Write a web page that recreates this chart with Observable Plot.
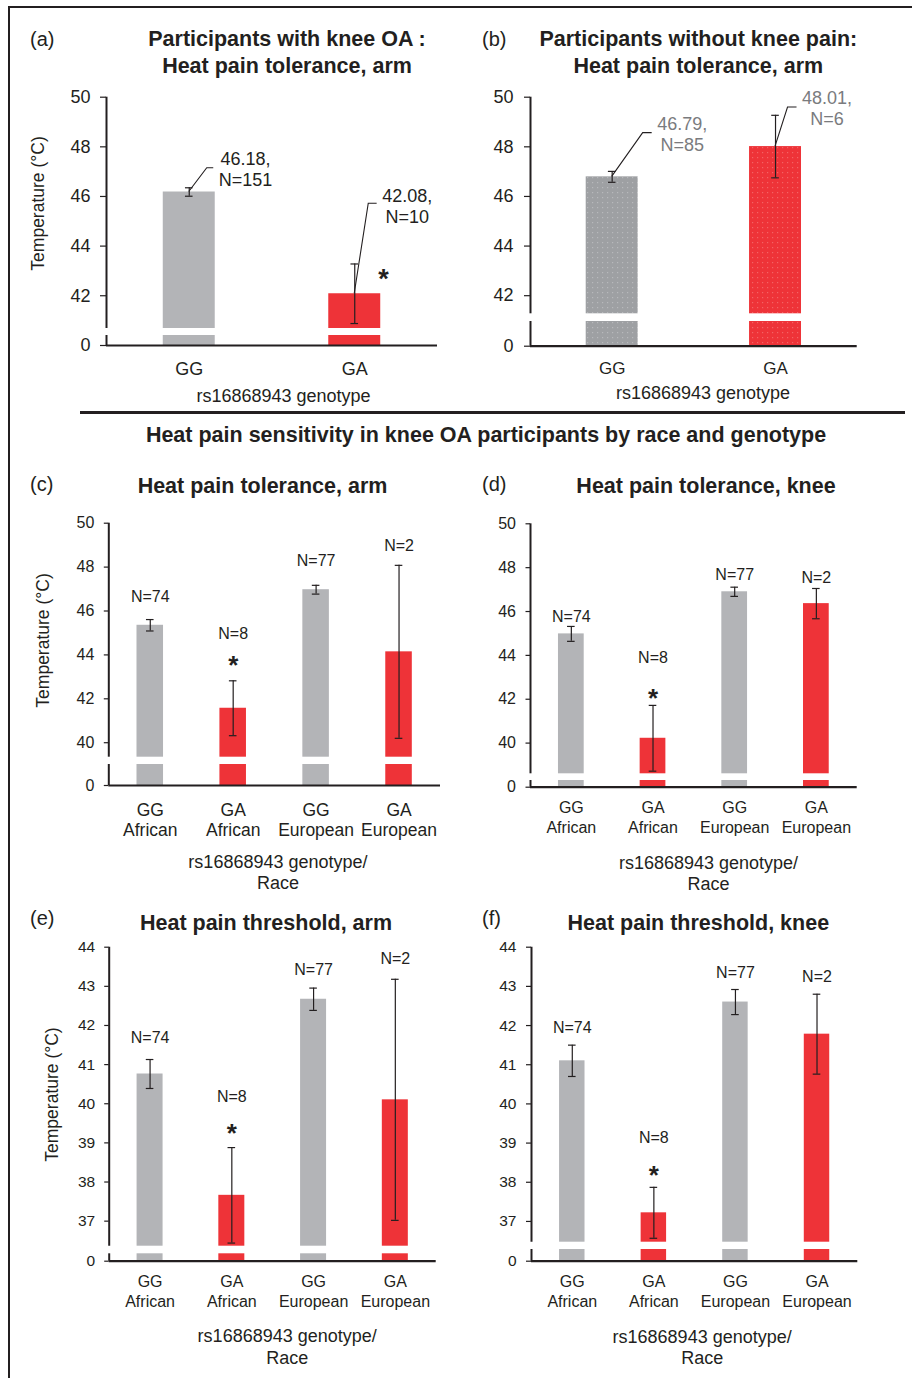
<!DOCTYPE html>
<html>
<head>
<meta charset="utf-8">
<script src="https://cdn.jsdelivr.net/npm/d3@7"></script>
<script src="https://cdn.jsdelivr.net/npm/@observablehq/plot@0.6"></script>
<style>
  html, body { margin: 0; padding: 0; background: #fff; }
  #fig { position: relative; width: 912px; height: 1378px; overflow: hidden; background: #fff;
         font-family: "Liberation Sans", Arial, Helvetica, sans-serif; color: #231f20; }
  .abs { position: absolute; white-space: pre; }
  .line { position: absolute; background: #231f20; }
</style>
</head>
<body>
<svg width="0" height="0" style="position:absolute">
  <defs>
    <pattern id="dotsGray" width="5" height="5" patternUnits="userSpaceOnUse">
      <rect width="5" height="5" fill="#9ea0a3"></rect>
      <rect x="2" y="2" width="1.2" height="1.2" fill="#b8b9bc"></rect>
    </pattern>
    <pattern id="dotsRed" width="5" height="5" patternUnits="userSpaceOnUse">
      <rect width="5" height="5" fill="#ee3338"></rect>
      <rect x="2" y="2" width="1.2" height="1.2" fill="#f36466"></rect>
    </pattern>
  </defs>
</svg>
<div id="fig"></div>
<script>
// ---------------- DATA ----------------
const genotypeCats = ["GG", "GA"];
const raceCats = ["GG\nAfrican", "GA\nAfrican", "GG\nEuropean", "GA\nEuropean"];
const raceGenotype = ["GG", "GA", "GG", "GA"];

// (a) knee OA participants, heat pain tolerance arm
const aMean = [46.18, 42.08];
const aSE = [0.17, 1.2];
const aN = [151, 10];
const aSig = [false, true];
// (b) participants without knee pain
const bMean = [46.79, 48.01];
const bSE = [0.22, 1.26];
const bN = [85, 6];
const bSig = [false, false];
// (c)-(f) by race and genotype
const raceN = [74, 8, 77, 2];
const raceSig = [false, true, false, false];
const cMean = [45.35, 41.57, 46.97, 44.14];
const cSE = [0.26, 1.25, 0.2, 3.94];
const dMean = [44.98, 40.22, 46.9, 46.36];
const dSE = [0.34, 1.5, 0.21, 0.69];
const eMean = [40.76, 37.66, 42.67, 40.1];
const eSE = [0.37, 1.22, 0.285, 3.08];
const fMean = [41.1, 37.22, 42.6, 41.78];
const fSE = [0.4, 0.65, 0.32, 1.02];

const ticksAB = [0, 42, 44, 46, 48, 50];
const ticksCD = [0, 40, 42, 44, 46, 48, 50];
const ticksEF = [0, 37, 38, 39, 40, 41, 42, 43, 44];

const yTitle = "Temperature (°C)";
const xTitle1 = "rs16868943 genotype";
const xTitle2 = "rs16868943 genotype/\nRace";

// ---------------- STYLE / LAYOUT ----------------
const FONT = '"Liberation Sans", Arial, Helvetica, sans-serif';
const INK = "#231f20";
const fillsPlain = {GG: "#b3b4b7", GA: "#ee3338"};
const fillsDots = {GG: "url(#dotsGray)", GA: "url(#dotsRed)"};

const panels = [
  {
    cats: genotypeCats, geno: genotypeCats, mean: aMean, se: aSE, n: aN, sig: aSig,
    ticks: ticksAB, yMax: 50, yBreak: 40.68, stubTop: 1, fills: fillsPlain,
    yLabel: yTitle, xLabel: xTitle1, style: "callout", calloutColor: INK,
    L: {left: 0, top: 80, width: 455, height: 330, axisLeft: 106, axisRight: 437,
        y0: 345, low: 10, gap: 7, yTop: 96.7, bar: 0.314, tickSize: 6, tickPad: 10, tickFont: 18,
        catFont: 18, catPad: 15.3, catLH: 1.1, xlDx: 11.5, xlDy: 40.9, ylDx: -68, ylDy: -17.9,
        callouts: [{dx: 56.3, dy: -23, lead: [18, -23.8, 6.5]}, {dx: 52.5, dy: -88.3, lead: [14, -90, 8.4]}],
        star: {dx: 28.8, dy: -21.3}, starFont: 27}
  },
  {
    cats: genotypeCats, geno: genotypeCats, mean: bMean, se: bSE, n: bN, sig: bSig,
    ticks: ticksAB, yMax: 50, yBreak: 41.27, stubTop: 1, fills: fillsDots,
    yLabel: null, xLabel: xTitle1, style: "callout", calloutColor: "#7a7b7e",
    L: {left: 455, top: 80, width: 457, height: 330, axisLeft: 530, axisRight: 856.7,
        y0: 345.7, low: 24.7, gap: 7.7, yTop: 96.7, bar: 0.318, tickSize: 6, tickPad: 11, tickFont: 18,
        catFont: 17, catPad: 14.9, catLH: 1.1, xlDx: 9.2, xlDy: 37.9,
        callouts: [{dx: 70, dy: -43.4, lead: [31, -43.7, 9]}, {dx: 51.5, dy: -38.6, lead: [12.5, -39, 9]}],
        star: null, starFont: 27}
  },
  {
    cats: raceCats, geno: raceGenotype, mean: cMean, se: cSE, n: raceN, sig: raceSig,
    ticks: ticksCD, yMax: 50, yBreak: 39.34, stubTop: 1, fills: fillsPlain,
    yLabel: yTitle, xLabel: xTitle2, style: "n",
    L: {left: 0, top: 510, width: 455, height: 390, axisLeft: 108.3, axisRight: 440,
        y0: 785, low: 21, gap: 7.3, yTop: 522.7, bar: 0.32, tickSize: 4.5, tickPad: 10, tickFont: 16,
        catFont: 17.5, catPad: 17, catLH: 1.11, xlDx: 3.3, xlDy: 66.9, ylDx: -65.3, ylDy: -13.9,
        nDy: [-23, -47.4, -24, -19], starDy: -21.4, starFont: 26}
  },
  {
    cats: raceCats, geno: raceGenotype, mean: dMean, se: dSE, n: raceN, sig: raceSig,
    ticks: ticksCD, yMax: 50, yBreak: 38.6, stubTop: 1, fills: fillsPlain,
    yLabel: null, xLabel: xTitle2, style: "n",
    L: {left: 455, top: 510, width: 457, height: 390, axisLeft: 530, axisRight: 856.7,
        y0: 786.7, low: 6.7, gap: 6.7, yTop: 523.3, bar: 0.315, tickSize: 4.5, tickPad: 10, tickFont: 16,
        catFont: 16, catPad: 12.6, catLH: 1.2, xlDx: 14.7, xlDy: 66.2,
        nDy: [-9.3, -47.3, -12.4, -11], starDy: -13.3, starFont: 26}
  },
  {
    cats: raceCats, geno: raceGenotype, mean: eMean, se: eSE, n: raceN, sig: raceSig,
    ticks: ticksEF, yMax: 44, yBreak: 36.36, stubTop: 1, fills: fillsPlain,
    yLabel: yTitle, xLabel: xTitle2, style: "n",
    L: {left: 0, top: 935, width: 455, height: 443, axisLeft: 108.7, axisRight: 435.7,
        y0: 1260.7, low: 7.4, gap: 7.6, yTop: 946.7, bar: 0.318, tickSize: 4.5, tickPad: 9.5, tickFont: 15.5,
        catFont: 16, catPad: 12.6, catLH: 1.2, xlDx: 14.5, xlDy: 65.6, ylDx: -57, ylDy: -9.7,
        nDy: [-22, -51, -18.4, -20], starDy: -21, starFont: 26}
  },
  {
    cats: raceCats, geno: raceGenotype, mean: fMean, se: fSE, n: raceN, sig: raceSig,
    ticks: ticksEF, yMax: 44, yBreak: 36.47, stubTop: 1, fills: fillsPlain,
    yLabel: null, xLabel: xTitle2, style: "n",
    L: {left: 455, top: 935, width: 457, height: 443, axisLeft: 531, axisRight: 857.3,
        y0: 1260.7, low: 11.7, gap: 7.3, yTop: 946.7, bar: 0.312, tickSize: 5, tickPad: 10, tickFont: 15.5,
        catFont: 16, catPad: 12.6, catLH: 1.2, xlDx: 7.5, xlDy: 66.2,
        nDy: [-17, -49, -17, -17.3], starDy: -18.4, starFont: 26}
  }
];

// ---------------- BUILD ----------------
const fig = document.getElementById("fig");

function leaderMark(rows, leads, color) {
  return (index, scales) => {
    const g = d3.create("svg:g").attr("fill", "none").attr("stroke", color).attr("stroke-width", 1.1);
    rows.forEach((d, k) => {
      const [lx, ly, lh] = leads[k];
      const x = scales.x(d.i), y = scales.y(d.mean);
      g.append("path").attr("d", `M${x},${y}l${lx},${ly}h${lh}`);
    });
    return g.node();
  };
}

function buildPanel(p) {
  const L = p.L;
  const rows = p.cats.map((c, i) => ({i, cat: c, geno: p.geno[i], mean: p.mean[i], se: p.se[i], n: p.n[i], sig: p.sig[i]}));
  const nCat = rows.length;
  const mt = L.yTop - L.top, mb = L.top + L.height - L.y0;
  const ml = L.axisLeft - L.left, mr = L.left + L.width - L.axisRight;
  const y0 = L.y0 - L.top;
  const half = L.bar / 2;
  const marks = [];
  for (const g of ["GG", "GA"]) {
    const sub = rows.filter(d => d.geno === g);
    marks.push(Plot.rect(sub, {x1: d => d.i - half, x2: d => d.i + half, y1: 0, y2: p.stubTop, fill: p.fills[g]}));
    marks.push(Plot.rect(sub, {x1: d => d.i - half, x2: d => d.i + half, y1: p.yBreak, y2: "mean", fill: p.fills[g]}));
  }
  // error bars
  const eb = {stroke: INK, strokeWidth: 1.2};
  marks.push(Plot.ruleX(rows, {x: "i", y1: d => d.mean - d.se, y2: d => d.mean + d.se, ...eb}));
  marks.push(Plot.ruleY(rows, {x1: "i", x2: "i", y: d => d.mean + d.se, insetLeft: -3.8, insetRight: -3.8, ...eb}));
  marks.push(Plot.ruleY(rows, {x1: "i", x2: "i", y: d => d.mean - d.se, insetLeft: -3.8, insetRight: -3.8, ...eb}));
  // broken y axis line and x axis line
  marks.push(Plot.ruleX([[0, p.stubTop], [p.yBreak, p.yMax]], {x: -0.5, y1: d => d[0], y2: d => d[1], stroke: INK, strokeWidth: 2}));
  marks.push(Plot.ruleY([0], {stroke: INK, strokeWidth: 2.2}));
  marks.push(Plot.axisY(p.ticks, {tickSize: L.tickSize, tickPadding: L.tickPad, fontSize: L.tickFont, label: null, stroke: INK, strokeWidth: 1.2, fill: INK}));
  marks.push(Plot.axisX(rows.map(d => d.i), {tickSize: 0, tickPadding: L.catPad, tickFormat: i => p.cats[i], fontSize: L.catFont, lineHeight: L.catLH, label: null, fill: INK}));
  // axis titles
  marks.push(Plot.text([p.xLabel], {text: d => d, frameAnchor: "bottom", textAnchor: "middle", lineAnchor: "top", dx: L.xlDx, dy: L.xlDy, fontSize: 18, lineHeight: 1.2, fill: INK}));
  if (p.yLabel) {
    marks.push(Plot.text([p.yLabel], {text: d => d, frameAnchor: "left", textAnchor: "middle", lineAnchor: "middle", rotate: -90, dx: L.ylDx, dy: L.ylDy, fontSize: 17.5, fill: INK}));
  }
  // annotations
  if (p.style === "callout") {
    rows.forEach((d, k) => {
      const c = L.callouts[k];
      marks.push(Plot.text([d], {x: "i", y: "mean", text: r => `${r.mean.toFixed(2)},\nN=${r.n}`, dx: c.dx, dy: c.dy,
        fontSize: 18, lineHeight: 1.17, fill: p.calloutColor}));
    });
    marks.push(leaderMark(rows, L.callouts.map(c => c.lead), INK));
    if (L.star) {
      marks.push(Plot.text(rows.filter(d => d.sig), {x: "i", y: "mean", text: () => "*", dx: L.star.dx,
        dy: L.star.dy + 0.255 * L.starFont, fontSize: L.starFont, fontWeight: "bold", fill: INK}));
    }
  } else {
    rows.forEach((d, k) => {
      marks.push(Plot.text([d], {x: "i", y: r => r.mean + r.se, text: r => `N=${r.n}`, dy: L.nDy[k], fontSize: 16, fill: INK}));
    });
    marks.push(Plot.text(rows.filter(d => d.sig), {x: "i", y: r => r.mean + r.se, text: () => "*",
      dy: L.starDy + 0.255 * L.starFont, fontSize: L.starFont, fontWeight: "bold", fill: INK}));
  }

  const svg = Plot.plot({
    width: L.width, height: L.height,
    marginTop: mt, marginBottom: mb, marginLeft: ml, marginRight: mr,
    style: {fontFamily: FONT, fontSize: "16px", color: INK, background: "transparent", overflow: "visible"},
    x: {type: "linear", domain: [-0.5, nCat - 0.5]},
    y: {type: "linear", domain: [0, p.stubTop, p.yBreak, p.yMax], range: [y0, y0 - L.low, y0 - L.low - L.gap, mt]},
    marks
  });
  svg.style.position = "absolute";
  svg.style.left = L.left + "px";
  svg.style.top = L.top + "px";
  svg.style.maxWidth = "none";
  fig.appendChild(svg);
}

panels.forEach(buildPanel);

// ---------------- HTML TEXT & RULES ----------------
function addText(str, {x, base, size, weight = 400, anchor = "middle", color = INK, lh = 1.2}) {
  const div = document.createElement("div");
  div.className = "abs";
  div.textContent = str;
  const lhPx = size * lh;
  const top = base - ((lhPx - 1.117 * size) / 2 + 0.905 * size);
  div.style.fontSize = size + "px";
  div.style.fontWeight = weight;
  div.style.lineHeight = lhPx + "px";
  div.style.color = color;
  div.style.top = top + "px";
  if (anchor === "middle") {
    div.style.left = x + "px";
    div.style.transform = "translateX(-50%)";
    div.style.textAlign = "center";
  } else {
    div.style.left = x + "px";
  }
  fig.appendChild(div);
}
function addLine(x, y, w, h) {
  const d = document.createElement("div");
  d.className = "line";
  Object.assign(d.style, {left: x + "px", top: y + "px", width: w + "px", height: h + "px"});
  fig.appendChild(d);
}

// frame and divider
addLine(8, 5.5, 904, 2);
addLine(8, 5.5, 2, 1373);
addLine(80, 411, 825, 2.5);

const TF = 21.5;
addText("(a)", {x: 30, base: 46, size: 20, anchor: "start"});
addText("(b)", {x: 482, base: 46, size: 20, anchor: "start"});
addText("(c)", {x: 30, base: 491, size: 20, anchor: "start"});
addText("(d)", {x: 482, base: 491, size: 20, anchor: "start"});
addText("(e)", {x: 30, base: 925, size: 20, anchor: "start"});
addText("(f)", {x: 482, base: 925, size: 20, anchor: "start"});

addText("Participants with knee OA :\nHeat pain tolerance, arm", {x: 287, base: 46.7, size: TF, weight: 700, lh: 26.6 / TF});
addText("Participants without knee pain:\nHeat pain tolerance, arm", {x: 698.3, base: 46.7, size: TF, weight: 700, lh: 26.6 / TF});
addText("Heat pain sensitivity in knee OA participants by race and genotype", {x: 486, base: 443, size: TF, weight: 700});
addText("Heat pain tolerance, arm", {x: 262.5, base: 494, size: TF, weight: 700});
addText("Heat pain tolerance, knee", {x: 706, base: 494, size: TF, weight: 700});
addText("Heat pain threshold, arm", {x: 266, base: 931, size: TF, weight: 700});
addText("Heat pain threshold, knee", {x: 698.3, base: 931, size: TF, weight: 700});
</script>
</body>
</html>
